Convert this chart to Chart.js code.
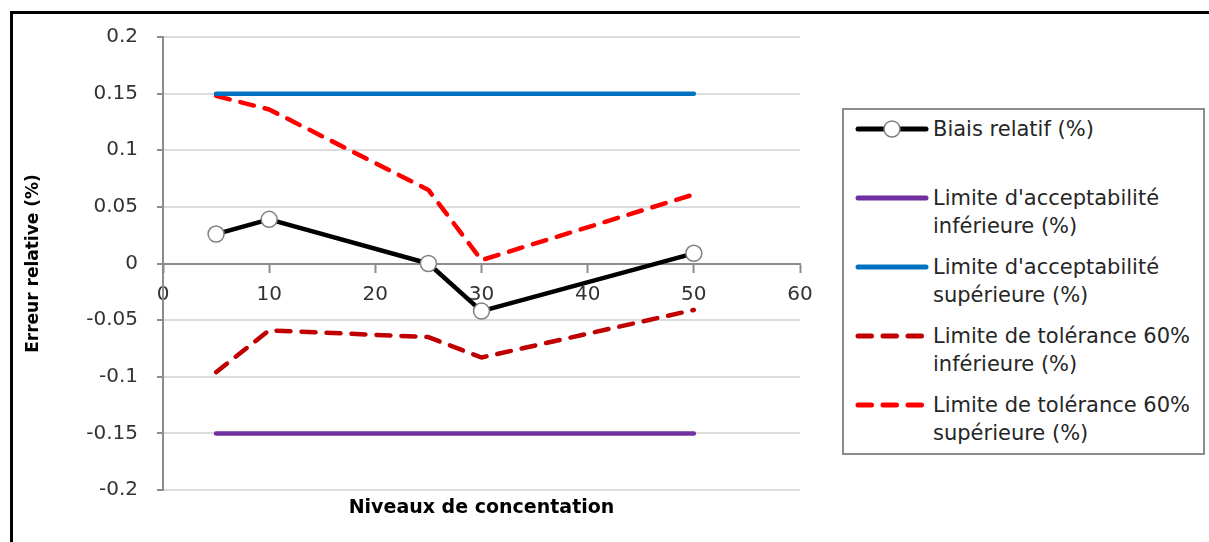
<!DOCTYPE html>
<html>
<head>
<meta charset="utf-8">
<script src="https://cdn.jsdelivr.net/npm/chart.js@4"></script>
<style>
  body { margin: 0; background: #fff; }
  #wrap { position: relative; width: 1209px; height: 542px; overflow: hidden; font-family: "DejaVu Sans", sans-serif; }
  #frame { position: absolute; left: 10px; top: 11px; width: 1300px; height: 700px; border-left: 3px solid #000; border-top: 3px solid #000; }
  #myChart { position: absolute; left: 0; top: 0; }
  #legend { position: absolute; left: 842px; top: 108px; width: 359px; height: 343px; border: 2px solid #8c8c8c; background: #fff; }
  .item { position: absolute; left: 0; height: 60px; width: 357px; }
  .item svg { position: absolute; left: 11px; top: 0; }
  .item span { position: absolute; left: 89px; top: 0; width: 268px; font-size: 21px; line-height: 28px; color: #262626; }
</style>
</head>
<body>
<div id="wrap">
  <div id="frame"></div>
  <canvas id="myChart" width="1209" height="542"></canvas>
  <div id="legend"></div>
</div>
<script>
const concentrations = [5, 10, 25, 30, 50];
const biaisRelatif = [0.026, 0.039, 0.0, -0.042, 0.009];
const limiteAccInf = [-0.15, -0.15, -0.15, -0.15, -0.15];
const limiteAccSup = [0.15, 0.15, 0.15, 0.15, 0.15];
const toleranceInf = [-0.096, -0.059, -0.065, -0.083, -0.041];
const toleranceSup = [0.148, 0.136, 0.065, 0.003, 0.061];

const xTicks = [0, 10, 20, 30, 40, 50, 60];

function pts(values) {
  return concentrations.map((x, i) => ({x: x, y: values[i]}));
}

const fontFamily = "'DejaVu Sans', sans-serif";
const dashed = [14, 11];

const chart = new Chart("myChart", {
  type: "line",
  data: {
    datasets: [{
      label: "Biais relatif (%)",
      data: pts(biaisRelatif),
      borderColor: "#000000",
      borderWidth: 4.5,
      pointRadius: 8,
      pointHoverRadius: 8,
      pointBackgroundColor: "#ffffff",
      pointBorderColor: "#7f7f7f",
      pointBorderWidth: 1.5,
      borderJoinStyle: "round"
    }, {
      label: "Limite d'acceptabilité inférieure (%)",
      data: pts(limiteAccInf),
      borderColor: "#7030a0",
      borderWidth: 4.5,
      borderCapStyle: "round",
      pointRadius: 0
    }, {
      label: "Limite d'acceptabilité supérieure (%)",
      data: pts(limiteAccSup),
      borderColor: "#0070c0",
      borderWidth: 4.5,
      borderCapStyle: "round",
      pointRadius: 0
    }, {
      label: "Limite de tolérance 60% inférieure (%)",
      data: pts(toleranceInf),
      borderColor: "#c00000",
      borderWidth: 4.5,
      borderDash: dashed,
      borderCapStyle: "round",
      borderJoinStyle: "round",
      pointRadius: 0
    }, {
      label: "Limite de tolérance 60% supérieure (%)",
      data: pts(toleranceSup),
      borderColor: "#ff0000",
      borderWidth: 4.5,
      borderDash: dashed,
      borderCapStyle: "round",
      borderJoinStyle: "round",
      pointRadius: 0
    }]
  },
  options: {
    responsive: false,
    animation: false,
    layout: {padding: {left: 14, top: 37, right: 409, bottom: 10}},
    scales: {
      x: {
        type: "linear",
        min: 0,
        max: 60,
        position: {y: 0},
        afterFit: (s) => { s.height = 0; },
        afterBuildTicks: (s) => { s.ticks = xTicks.map(v => ({value: v})); },
        grid: {drawOnChartArea: false, drawTicks: true, tickLength: 8, tickColor: "#8c8c8c", tickWidth: 2},
        border: {color: "#8c8c8c", width: 2},
        ticks: {padding: 11, color: "#333", font: {family: fontFamily, size: 20}, maxRotation: 0}
      },
      y: {
        min: -0.2,
        max: 0.2,
        afterFit: (s) => { s.width = 149; },
        grid: {color: "#dcdcdc", lineWidth: 2, tickLength: 6, tickColor: "#8c8c8c", tickWidth: 2},
        border: {color: "#8c8c8c", width: 2},
        ticks: {
          stepSize: 0.05,
          padding: 19,
          color: "#333",
          font: {family: fontFamily, size: 20},
          callback: (v) => String(Math.round(v * 100) / 100)
        },
        title: {
          display: true,
          text: "Erreur relative (%)",
          color: "#000",
          font: {family: fontFamily, size: 17, weight: "bold"},
          padding: {top: 9, bottom: 0}
        }
      }
    },
    plugins: {
      legend: {display: false},
      tooltip: {enabled: false},
      title: {
        display: true,
        text: "Niveaux de concentation",
        position: "bottom",
        fullSize: false,
        color: "#000",
        font: {family: fontFamily, size: 19, weight: "bold"},
        padding: {top: 6.6, bottom: 12.6}
      }
    }
  }
});

// legend box built from the datasets
const legendEl = document.getElementById("legend");
chart.data.datasets.forEach((ds, i) => {
  const item = document.createElement("div");
  item.className = "item";
  item.style.top = (5 + i * 69) + "px";
  const dash = ds.borderDash ? ' stroke-dasharray="13.5 11.5"' : "";
  let svg = '<svg width="74" height="28" viewBox="0 0 74 28">' +
    '<line x1="3" y1="14" x2="71" y2="14" stroke="' + ds.borderColor + '" stroke-width="5" stroke-linecap="round"' + dash + '/>';
  if (ds.pointRadius > 0) {
    svg += '<circle cx="37" cy="14" r="8" fill="#fff" stroke="' + ds.pointBorderColor + '" stroke-width="1.5"/>';
  }
  svg += '</svg>';
  item.innerHTML = svg + '<span>' + ds.label + '</span>';
  legendEl.appendChild(item);
});
</script>
</body>
</html>
